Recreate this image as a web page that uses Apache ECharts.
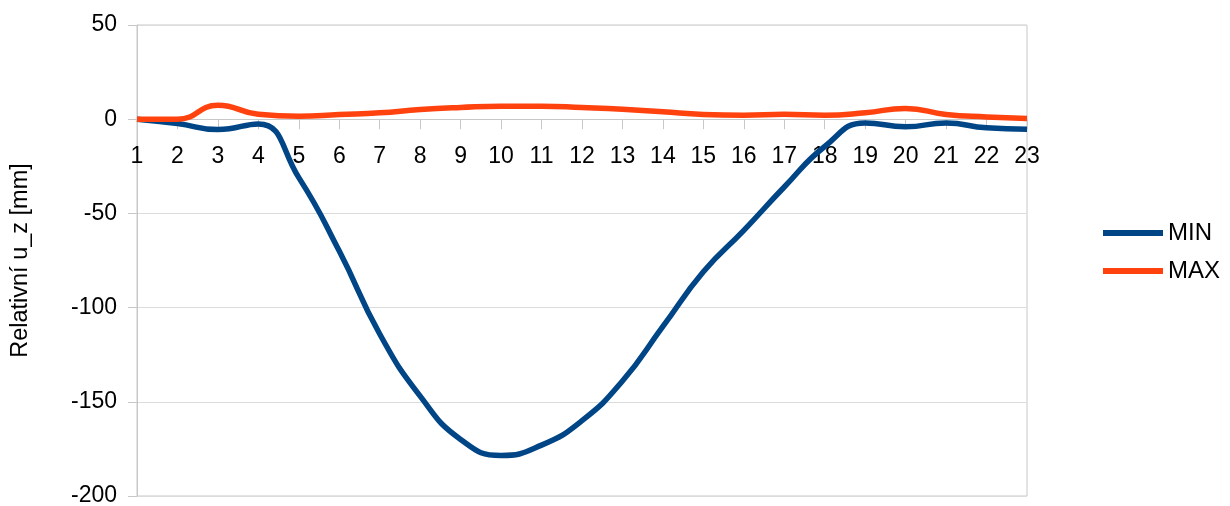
<!DOCTYPE html>
<html>
<head>
<meta charset="utf-8">
<script src="https://cdn.jsdelivr.net/npm/echarts@6/dist/echarts.min.js"></script>
<style>
html,body{margin:0;padding:0;background:#fff;}
#chart{width:1230px;height:506px;}
</style>
</head>
<body>
<div id="chart"></div>
<script>
const categories = ['1','2','3','4','5','6','7','8','9','10','11','12','13','14','15','16','17','18','19','20','21','22','23'];
const minValues = [0, -2.3, -5.5, -2.5, -31, -70, -114, -147, -170, -178.5, -173, -160, -139, -110, -81, -59, -36, -14.5, -2, -4, -2, -4.6, -5.3];
const maxValues = [0, 0, 7.4, 2.6, 1.6, 2.5, 3.4, 5.1, 6.2, 6.9, 6.9, 6.2, 5.3, 3.9, 2.5, 2.1, 2.6, 2.1, 3.4, 5.7, 2.5, 1.2, 0.4];
const seriesNames = ['MIN', 'MAX'];
const yAxisName = 'Relativní u_z [mm]';
const yMin = -200, yMax = 50, yStep = 50;

const FONT = '"Liberation Sans", Arial, sans-serif';
const W = 1230, H = 506;
const gridLeft = 137, gridRight = 203, gridTop = 25, gridBottom = 10;
const plotH = H - gridTop - gridBottom;
// pixel distance from bottom edge of the grid up to the value 0
const zeroOffset = plotH * (0 - yMin) / (yMax - yMin);

const chart = echarts.init(document.getElementById('chart'), null, {renderer: 'canvas'});
chart.setOption({
  animation: false,
  backgroundColor: '#ffffff',
  grid: {
    left: gridLeft, right: gridRight, top: gridTop, bottom: gridBottom,
    outerBoundsMode: 'none', containLabel: false,
    show: true, borderColor: '#c8c8c8', borderWidth: 1, backgroundColor: 'transparent'
  },
  legend: {
    orient: 'vertical',
    left: 1103, top: 221,
    padding: 0,
    itemWidth: 60, itemHeight: 6, itemGap: 14,
    icon: 'rect',
    textStyle: {fontFamily: FONT, fontSize: 24, color: '#000'},
    data: seriesNames
  },
  xAxis: {
    type: 'category',
    data: categories,
    boundaryGap: false,
    position: 'bottom',
    offset: -zeroOffset,
    axisLine: {onZero: false, lineStyle: {color: '#c8c8c8', width: 1}},
    axisTick: {show: true, length: 10, lineStyle: {color: '#c8c8c8'}},
    axisLabel: {fontFamily: FONT, fontSize: 23, color: '#000', margin: 26, interval: 0},
    splitLine: {show: false}
  },
  yAxis: {
    type: 'value',
    min: yMin, max: yMax, interval: yStep,
    name: yAxisName,
    nameLocation: 'middle',
    nameGap: 104,
    nameTextStyle: {fontFamily: FONT, fontSize: 23.5, color: '#000'},
    axisLine: {show: true, lineStyle: {color: '#c8c8c8'}},
    axisTick: {show: true, length: 9, lineStyle: {color: '#c8c8c8'}},
    axisLabel: {fontFamily: FONT, fontSize: 23, color: '#000', margin: 20},
    splitLine: {show: true, lineStyle: {color: '#dcdcdc', width: 1}}
  },
  series: [
    {
      name: seriesNames[0], type: 'line', data: minValues, smooth: 0.5,
      symbol: 'none', lineStyle: {color: '#004586', width: 5.5}, itemStyle: {color: '#004586'}
    },
    {
      name: seriesNames[1], type: 'line', data: maxValues, smooth: 0.5,
      symbol: 'none', lineStyle: {color: '#ff420e', width: 5.5}, itemStyle: {color: '#ff420e'}
    }
  ]
});
</script>
</body>
</html>
